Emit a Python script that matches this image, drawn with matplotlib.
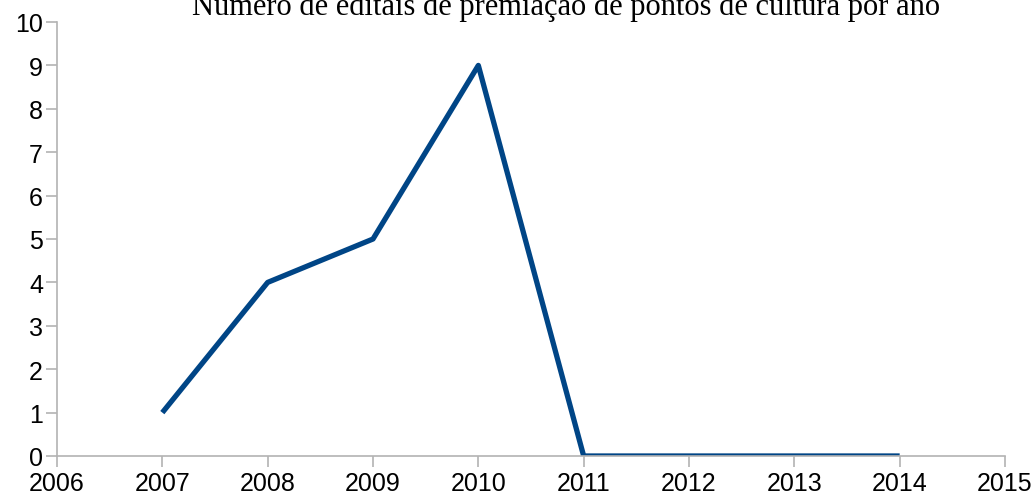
import matplotlib.pyplot as plt

years = [2007, 2008, 2009, 2010, 2011, 2012, 2013, 2014]
editais = [1, 4, 5, 9, 0, 0, 0, 0]
x_ticks = list(range(2006, 2016))
y_ticks = list(range(0, 11))

plt.rcParams['font.family'] = ['Liberation Sans', 'DejaVu Sans']

fig = plt.figure(figsize=(10.36, 5.02), dpi=100)
ax = fig.add_axes([57 / 1036, 45 / 502, 948 / 1036, 434 / 502])

ax.plot(years, editais, color='#004586', linewidth=3.8, solid_capstyle='butt')

ax.set_xlim(2006, 2015)
ax.set_ylim(0, 10)
ax.set_xticks(x_ticks)
ax.set_yticks(y_ticks)
ax.tick_params(axis='both', labelsize=18, color='#b3b3b3', length=8, width=1.2)
ax.tick_params(axis='x', pad=3)
ax.tick_params(axis='y', pad=2)
for side in ['top', 'right']:
    ax.spines[side].set_visible(False)
for side in ['left', 'bottom']:
    ax.spines[side].set_color('#b3b3b3')
    ax.spines[side].set_linewidth(1.2)

fig.text(0.546, 0.985, 'Número de editais de premiação de pontos de cultura por ano',
         ha='center', va='center', fontsize=22, family='Liberation Serif')

fig.savefig('out.png', dpi=100)
